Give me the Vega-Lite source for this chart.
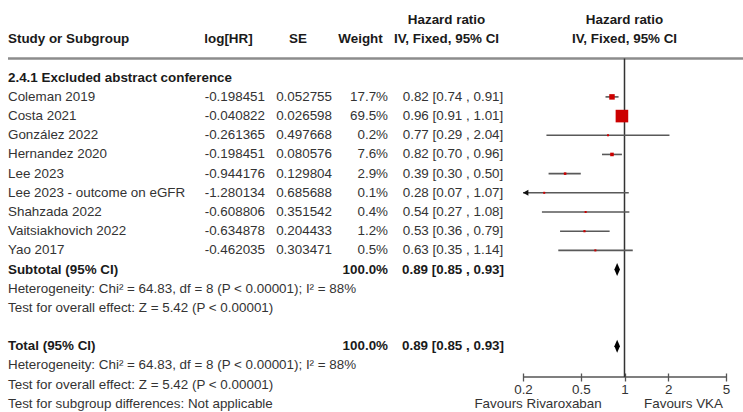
{
  "$schema": "https://vega.github.io/schema/vega-lite/v6.json",
  "padding": 0,
  "spacing": 0,
  "bounds": "flush",
  "background": "white",
  "config": {
    "view": {"stroke": null},
    "font": "Liberation Sans",
    "locale": {"number": {"decimal": ".", "thousands": ",", "grouping": [3], "currency": ["$", ""], "minus": "-", "percent": "%"}},
    "text": {"font": "Liberation Sans", "fontSize": 13.4, "color": "#333333", "baseline": "middle"}
  },
  "datasets": {
    "one": [{}],
    "rows": [
      {"row": 0, "label": "2.4.1 Excluded abstract conference", "kind": "group"},
      {"row": 1, "label": "Coleman 2019", "kind": "study", "logHR": -0.198451, "SE": 0.052755, "weight": 0.177, "hr": 0.82, "lo": 0.74, "hi": 0.91, "ci": "0.82 [0.74 , 0.91]"},
      {"row": 2, "label": "Costa 2021", "kind": "study", "logHR": -0.040822, "SE": 0.026598, "weight": 0.695, "hr": 0.96, "lo": 0.91, "hi": 1.01, "ci": "0.96 [0.91 , 1.01]"},
      {"row": 3, "label": "González 2022", "kind": "study", "logHR": -0.261365, "SE": 0.497668, "weight": 0.002, "hr": 0.77, "lo": 0.29, "hi": 2.04, "ci": "0.77 [0.29 , 2.04]"},
      {"row": 4, "label": "Hernandez 2020", "kind": "study", "logHR": -0.198451, "SE": 0.080576, "weight": 0.076, "hr": 0.82, "lo": 0.70, "hi": 0.96, "ci": "0.82 [0.70 , 0.96]"},
      {"row": 5, "label": "Lee 2023", "kind": "study", "logHR": -0.944176, "SE": 0.129804, "weight": 0.029, "hr": 0.39, "lo": 0.30, "hi": 0.50, "ci": "0.39 [0.30 , 0.50]"},
      {"row": 6, "label": "Lee 2023 - outcome on eGFR", "kind": "study", "logHR": -1.280134, "SE": 0.685688, "weight": 0.001, "hr": 0.28, "lo": 0.07, "hi": 1.07, "ci": "0.28 [0.07 , 1.07]"},
      {"row": 7, "label": "Shahzada 2022", "kind": "study", "logHR": -0.608806, "SE": 0.351542, "weight": 0.004, "hr": 0.54, "lo": 0.27, "hi": 1.08, "ci": "0.54 [0.27 , 1.08]"},
      {"row": 8, "label": "Vaitsiakhovich 2022", "kind": "study", "logHR": -0.634878, "SE": 0.204433, "weight": 0.012, "hr": 0.53, "lo": 0.36, "hi": 0.79, "ci": "0.53 [0.36 , 0.79]"},
      {"row": 9, "label": "Yao 2017", "kind": "study", "logHR": -0.462035, "SE": 0.303471, "weight": 0.005, "hr": 0.63, "lo": 0.35, "hi": 1.14, "ci": "0.63 [0.35 , 1.14]"},
      {"row": 10, "label": "Subtotal (95% CI)", "kind": "subtotal", "weight": 1.0, "hr": 0.89, "lo": 0.85, "hi": 0.93, "ci": "0.89 [0.85 , 0.93]"},
      {"row": 11, "label": "Heterogeneity: Chi² = 64.83, df = 8 (P < 0.00001); I² = 88%", "kind": "note"},
      {"row": 12, "label": "Test for overall effect: Z = 5.42 (P < 0.00001)", "kind": "note"},
      {"row": 14, "label": "Total (95% CI)", "kind": "total", "weight": 1.0, "hr": 0.89, "lo": 0.85, "hi": 0.93, "ci": "0.89 [0.85 , 0.93]"},
      {"row": 15, "label": "Heterogeneity: Chi² = 64.83, df = 8 (P < 0.00001); I² = 88%", "kind": "note"},
      {"row": 16, "label": "Test for overall effect: Z = 5.42 (P < 0.00001)", "kind": "note"},
      {"row": 17, "label": "Test for subgroup differences: Not applicable", "kind": "note"}
    ]
  },
  "hconcat": [
    {
      "width": 523,
      "height": 377,
      "layer": [
        {
          "data": {"name": "one"},
          "mark": {"type": "rule", "color": "#8c8c8c", "strokeWidth": 2.5},
          "encoding": {
            "x": {"datum": 8, "type": "quantitative", "scale": {"domain": [0, 523], "nice": false, "zero": false}, "axis": null},
            "x2": {"datum": 523},
            "y": {"datum": -1, "type": "quantitative", "scale": {"domain": [-4.05, 15.6], "reverse": true, "nice": false, "zero": false}, "axis": null}
          }
        },
        {
          "data": {"name": "one"},
          "mark": {"type": "text", "text": "Study or Subgroup", "fontWeight": "bold", "align": "left", "color": "#1a1a1a"},
          "encoding": {"x": {"datum": 8, "type": "quantitative"}, "y": {"datum": -2, "type": "quantitative"}}
        },
        {
          "data": {"name": "one"},
          "mark": {"type": "text", "text": "log[HR]", "fontWeight": "bold", "align": "center", "color": "#1a1a1a"},
          "encoding": {"x": {"datum": 228.5, "type": "quantitative"}, "y": {"datum": -2, "type": "quantitative"}}
        },
        {
          "data": {"name": "one"},
          "mark": {"type": "text", "text": "SE", "fontWeight": "bold", "align": "center", "color": "#1a1a1a"},
          "encoding": {"x": {"datum": 298, "type": "quantitative"}, "y": {"datum": -2, "type": "quantitative"}}
        },
        {
          "data": {"name": "one"},
          "mark": {"type": "text", "text": "Weight", "fontWeight": "bold", "align": "center", "color": "#1a1a1a"},
          "encoding": {"x": {"datum": 360.5, "type": "quantitative"}, "y": {"datum": -2, "type": "quantitative"}}
        },
        {
          "data": {"name": "one"},
          "mark": {"type": "text", "text": "Hazard ratio", "fontWeight": "bold", "align": "center", "color": "#1a1a1a"},
          "encoding": {"x": {"datum": 446.5, "type": "quantitative"}, "y": {"datum": -3, "type": "quantitative"}}
        },
        {
          "data": {"name": "one"},
          "mark": {"type": "text", "text": "IV, Fixed, 95% CI", "fontWeight": "bold", "align": "center", "color": "#1a1a1a"},
          "encoding": {"x": {"datum": 446.5, "type": "quantitative"}, "y": {"datum": -2, "type": "quantitative"}}
        },
        {
          "data": {"name": "rows"},
          "transform": [{"filter": "datum.kind === 'study' || datum.kind === 'note'"}],
          "mark": {"type": "text", "align": "left"},
          "encoding": {
            "x": {"datum": 8, "type": "quantitative"},
            "y": {"field": "row", "type": "quantitative"},
            "text": {"field": "label"}
          }
        },
        {
          "data": {"name": "rows"},
          "transform": [{"filter": "datum.kind === 'group' || datum.kind === 'subtotal' || datum.kind === 'total'"}],
          "mark": {"type": "text", "align": "left", "fontWeight": "bold", "color": "#1a1a1a"},
          "encoding": {
            "x": {"datum": 8, "type": "quantitative"},
            "y": {"field": "row", "type": "quantitative"},
            "text": {"field": "label"}
          }
        },
        {
          "data": {"name": "rows"},
          "transform": [{"filter": "datum.kind === 'study'"}],
          "mark": {"type": "text", "align": "right"},
          "encoding": {
            "x": {"datum": 265, "type": "quantitative"},
            "y": {"field": "row", "type": "quantitative"},
            "text": {"field": "logHR", "type": "quantitative", "format": ".6f"}
          }
        },
        {
          "data": {"name": "rows"},
          "transform": [{"filter": "datum.kind === 'study'"}],
          "mark": {"type": "text", "align": "right"},
          "encoding": {
            "x": {"datum": 332, "type": "quantitative"},
            "y": {"field": "row", "type": "quantitative"},
            "text": {"field": "SE", "type": "quantitative", "format": ".6f"}
          }
        },
        {
          "data": {"name": "rows"},
          "transform": [{"filter": "datum.kind === 'study'"}],
          "mark": {"type": "text", "align": "right"},
          "encoding": {
            "x": {"datum": 388, "type": "quantitative"},
            "y": {"field": "row", "type": "quantitative"},
            "text": {"field": "weight", "type": "quantitative", "format": ".1%"}
          }
        },
        {
          "data": {"name": "rows"},
          "transform": [{"filter": "datum.kind === 'subtotal' || datum.kind === 'total'"}],
          "mark": {"type": "text", "align": "right", "fontWeight": "bold", "color": "#1a1a1a"},
          "encoding": {
            "x": {"datum": 388, "type": "quantitative"},
            "y": {"field": "row", "type": "quantitative"},
            "text": {"field": "weight", "type": "quantitative", "format": ".1%"}
          }
        },
        {
          "data": {"name": "rows"},
          "transform": [{"filter": "datum.kind === 'study'"}],
          "mark": {"type": "text", "align": "center"},
          "encoding": {
            "x": {"datum": 453, "type": "quantitative"},
            "y": {"field": "row", "type": "quantitative"},
            "text": {"field": "ci"}
          }
        },
        {
          "data": {"name": "rows"},
          "transform": [{"filter": "datum.kind === 'subtotal' || datum.kind === 'total'"}],
          "mark": {"type": "text", "align": "center", "fontWeight": "bold", "color": "#1a1a1a"},
          "encoding": {
            "x": {"datum": 453, "type": "quantitative"},
            "y": {"field": "row", "type": "quantitative"},
            "text": {"field": "ci"}
          }
        }
      ]
    },
    {
      "width": 203,
      "height": 377,
      "layer": [
        {
          "data": {"name": "one"},
          "mark": {"type": "rule", "color": "#8c8c8c", "strokeWidth": 2.5},
          "encoding": {
            "x": {"datum": 0.2, "type": "quantitative", "scale": {"type": "log", "domain": [0.2, 5], "nice": false},
              "axis": {"values": [0.2, 0.5, 1, 2, 5], "format": "~g", "title": null, "domain": false, "grid": false, "offset": -4, "tickSize": 8, "tickColor": "#555555", "tickWidth": 1.3, "labelFontSize": 13.4, "labelFont": "Liberation Sans", "labelColor": "#333333", "labelPadding": 1, "labelFlush": false, "labelOverlap": false}},
            "x2": {"datum": 6.6},
            "y": {"datum": -1, "type": "quantitative", "scale": {"domain": [-4.05, 15.6], "reverse": true, "nice": false, "zero": false}, "axis": null}
          }
        },
        {
          "data": {"name": "one"},
          "mark": {"type": "text", "text": "Hazard ratio", "fontWeight": "bold", "align": "center", "color": "#1a1a1a"},
          "encoding": {"x": {"datum": 1, "type": "quantitative"}, "y": {"datum": -3, "type": "quantitative"}}
        },
        {
          "data": {"name": "one"},
          "mark": {"type": "text", "text": "IV, Fixed, 95% CI", "fontWeight": "bold", "align": "center", "color": "#1a1a1a"},
          "encoding": {"x": {"datum": 1, "type": "quantitative"}, "y": {"datum": -2, "type": "quantitative"}}
        },
        {
          "data": {"name": "one"},
          "mark": {"type": "rule", "color": "#555555", "strokeWidth": 1.5},
          "encoding": {
            "x": {"datum": 0.2, "type": "quantitative"},
            "x2": {"datum": 5},
            "y": {"datum": 15.6, "type": "quantitative"}
          }
        },
        {
          "data": {"name": "one"},
          "mark": {"type": "rule", "color": "#333333", "strokeWidth": 1.5},
          "encoding": {
            "x": {"datum": 1, "type": "quantitative"},
            "y": {"datum": -1, "type": "quantitative"},
            "y2": {"datum": 15.6}
          }
        },
        {
          "data": {"name": "rows"},
          "transform": [{"filter": "datum.kind === 'study'"}],
          "mark": {"type": "rule", "color": "#595959", "strokeWidth": 1.6, "clip": true},
          "encoding": {
            "x": {"field": "lo", "type": "quantitative"},
            "x2": {"field": "hi"},
            "y": {"field": "row", "type": "quantitative"}
          }
        },
        {
          "data": {"name": "rows"},
          "transform": [{"filter": "datum.kind === 'study' && datum.lo < 0.2"}],
          "mark": {"type": "point", "shape": "M0,0L1.8,-1L1.8,1Z", "filled": true, "color": "#111111", "opacity": 1, "size": 36},
          "encoding": {
            "x": {"datum": 0.2, "type": "quantitative"},
            "y": {"field": "row", "type": "quantitative"}
          }
        },
        {
          "data": {"name": "rows"},
          "transform": [{"filter": "datum.kind === 'study'"}],
          "mark": {"type": "square", "color": "#cc0000", "opacity": 1},
          "encoding": {
            "x": {"field": "hr", "type": "quantitative"},
            "y": {"field": "row", "type": "quantitative"},
            "size": {"field": "weight", "type": "quantitative", "scale": {"type": "pow", "exponent": 1.3, "domain": [0, 0.7], "range": [4, 160]}, "legend": null}
          }
        },
        {
          "data": {"name": "rows"},
          "transform": [{"filter": "datum.kind === 'subtotal' || datum.kind === 'total'"}],
          "mark": {"type": "point", "shape": "M0,-1L0.43,0L0,1L-0.43,0Z", "filled": true, "color": "#000000", "opacity": 1, "size": 169},
          "encoding": {
            "x": {"field": "hr", "type": "quantitative"},
            "y": {"field": "row", "type": "quantitative"}
          }
        },
        {
          "data": {"name": "one"},
          "mark": {"type": "text", "text": "Favours Rivaroxaban", "align": "center"},
          "encoding": {"x": {"datum": 0.254, "type": "quantitative"}, "y": {"datum": 17, "type": "quantitative"}}
        },
        {
          "data": {"name": "one"},
          "mark": {"type": "text", "text": "Favours VKA", "align": "center"},
          "encoding": {"x": {"datum": 2.55, "type": "quantitative"}, "y": {"datum": 17, "type": "quantitative"}}
        }
      ]
    }
  ]
}
